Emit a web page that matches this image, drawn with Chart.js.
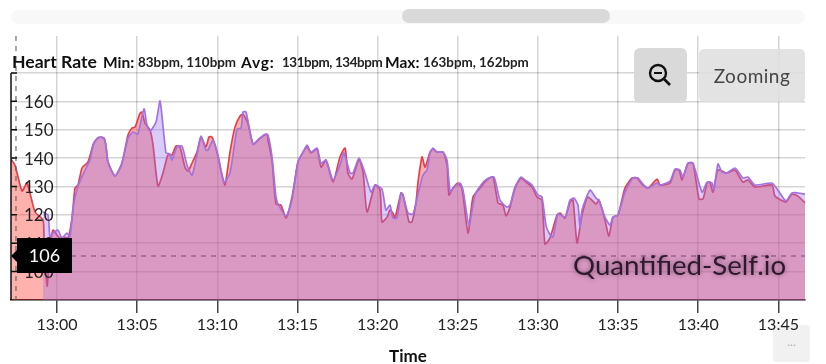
<!DOCTYPE html>
<html>
<head>
<meta charset="utf-8">
<title>Heart Rate</title>
<script src="https://cdn.jsdelivr.net/npm/chart.js@4"></script>
<style>
  html, body { margin: 0; padding: 0; background: #fff; overflow: hidden; }
  body { width: 826px; height: 364px; position: relative; font-family: Lato, sans-serif; color: #111; }
  #chartBox { position: absolute; left: 0; top: 0; width: 826px; height: 364px; }
  .abs { position: absolute; }
  #track { left: 11px; top: 10px; width: 794px; height: 14px; border-radius: 7px; background: #f8f8f8; }
  #thumb { left: 402px; top: 9px; width: 208px; height: 14px; border-radius: 7px; background: #d9d9d9; }
  #heading { left: 12px; top: 51px; white-space: nowrap; line-height: 22px; }
  #heading span { position: absolute; top: 0; white-space: nowrap; }
  .big { font-size: 17.6px; font-weight: 700; color: #111; }
  .mid { font-size: 15.5px; font-weight: 700; color: #111; }
  .small { font-size: 13.4px; font-weight: 700; color: #222; }
  #zoomBtn { left: 634px; top: 48px; width: 53px; height: 55px; border-radius: 6px; background: #d9d9d9; }
  #zoomingBtn { left: 699px; top: 49px; width: 106px; height: 53px; border-radius: 5px; background: rgba(222,222,222,.85);
    font: 19px Lato, sans-serif; color: #444; line-height: 53px; text-align: center; letter-spacing: .5px; }
  #moreBtn { left: 773px; top: 325px; width: 37px; height: 37px; border-radius: 4px; background: rgba(240,240,240,.9);
    font: 12px Lato, sans-serif; color: #aaa; text-align: center; line-height: 34px; }
  #mark { left: 573px; top: 248px; font: 27.6px Lato, sans-serif; color: #2c1a2c; white-space: nowrap;
    text-shadow: 0 0 5px rgba(60,30,60,.55); }
</style>
</head>
<body>
<div class="abs" id="moreBtn">...</div>
<div id="chartBox"><canvas id="hrChart" width="826" height="364"></canvas></div>
<div class="abs" id="track"></div>
<div class="abs" id="thumb"></div>
<div class="abs" id="heading">
  <span class="big" style="left:0">Heart Rate</span>
  <span class="mid" style="left:91px">Min:</span>
  <span class="small" style="left:126px">83bpm, 110bpm</span>
  <span class="mid" style="left:229px;letter-spacing:.8px">Avg:</span>
  <span class="small" style="left:270px;letter-spacing:-.4px">131bpm, 134bpm</span>
  <span class="mid" style="left:373px">Max:</span>
  <span class="small" style="left:411px">163bpm, 162bpm</span>
</div>
<div class="abs" id="zoomBtn">
  <svg width="53" height="55" viewBox="0 0 53 55">
    <circle cx="24" cy="25" r="8" fill="none" stroke="#111" stroke-width="2.4"/>
    <line x1="20" y1="25" x2="28" y2="25" stroke="#111" stroke-width="2"/>
    <line x1="30" y1="31" x2="36" y2="37" stroke="#111" stroke-width="2.6"/>
  </svg>
</div>
<div class="abs" id="zoomingBtn">Zooming</div>
<div class="abs" id="mark">Quantified-Self.io</div>

<script>
// minutes relative to 13:00
const redTimes = [-2.87,-2.62,-2.18,-1.87,-1.37,-0.87,-0.81,-0.62,-0.44,-0.25,0,0.19,0.44,0.69,0.94,1.12,1.31,1.56,1.93,2.25,2.46,2.68,2.93,3.05,3.18,3.62,4.05,4.43,4.68,4.87,5.18,5.30,5.49,5.80,5.99,6.30,6.61,6.92,7.17,7.42,7.67,7.98,8.17,8.42,8.73,8.98,9.29,9.48,9.67,9.98,10.29,10.48,10.79,11.10,11.42,11.60,11.91,12.23,12.66,13.10,13.16,13.41,13.66,13.97,14.29,14.66,15.03,15.35,15.60,15.84,16.22,16.47,16.78,17.22,17.65,17.97,18.15,18.40,18.84,19.09,19.34,19.84,20.15,20.27,20.59,20.77,20.96,21.08,21.46,21.58,21.96,22.14,22.39,22.52,22.77,22.96,23.27,23.45,23.70,24.08,24.33,24.45,24.70,25.01,25.26,25.64,25.95,26.45,26.82,27.20,27.51,27.82,28.01,28.26,28.57,28.94,29.19,29.63,29.94,30.25,30.44,30.75,31.19,31.38,31.69,32.00,32.19,32.44,32.75,33.12,33.62,33.81,34.18,34.43,34.68,34.99,35.43,35.87,36.18,36.49,36.87,37.43,37.62,38.24,38.55,38.80,38.99,39.36,39.67,40.05,40.30,40.55,40.73,40.92,41.23,41.79,42.29,42.79,43.10,43.54,44.60,44.79,45.47,45.85,46.22,46.66];
const redBpm = [139.6,137.5,128.4,131.2,121.0,118.2,111.1,94.9,109.4,114.6,112.9,111.8,112.2,111.8,118.9,129.4,130.5,136.5,138.6,144.6,146.6,147.4,147.0,144.5,138.6,133.7,138.2,148.1,150.6,150.9,155.8,156.2,152.3,149.9,144.6,130.1,134.7,141.1,141.1,144.2,143.9,136.8,135.4,138.2,142.1,147.4,143.9,147.4,147.4,142.1,134.0,130.5,142.1,150.9,154.8,155.5,152.3,144.9,147.0,148.4,146.3,139.3,123.8,123.4,118.9,126.3,138.6,142.1,143.9,141.8,143.2,136.8,139.3,131.5,140.4,143.5,134.7,132.6,139.6,135.1,121.0,130.5,128.7,117.5,119.2,121.7,120.6,118.9,127.7,127.0,117.5,117.5,124.2,131.5,140.4,136.8,142.1,143.2,142.1,142.1,137.5,127.0,129.4,131.2,129.4,113.6,126.3,129.8,132.3,133.3,124.2,123.4,119.6,122.7,129.4,133.0,131.9,129.8,126.3,125.2,109.7,111.8,119.9,120.6,118.9,124.5,125.2,110.1,119.9,126.3,123.8,125.2,118.2,112.5,119.2,119.9,129.4,133.0,133.0,130.8,129.4,132.6,130.5,131.2,135.8,135.8,132.3,138.2,138.2,125.6,125.6,131.2,131.5,128.0,135.8,134.7,135.8,131.5,132.3,129.8,130.5,126.6,124.5,127.3,126.6,124.2];

const purpleTimes = [-0.87,-0.56,-0.44,-0.25,0.06,0.31,0.62,0.81,1.00,1.31,1.75,2.06,2.25,2.46,2.68,2.93,3.05,3.18,3.62,4.05,4.43,4.74,4.99,5.05,5.43,5.61,5.80,6.18,6.43,6.80,7.05,7.17,7.49,7.80,8.11,8.42,8.73,8.98,9.29,9.42,9.73,10.04,10.42,10.79,11.23,11.48,11.60,11.79,12.23,12.66,12.98,13.16,13.41,13.66,13.79,14.29,14.66,15.03,15.35,15.60,15.84,16.22,16.47,16.78,17.22,17.65,17.90,18.28,18.46,18.84,19.21,19.59,19.84,20.27,20.52,20.77,20.96,21.21,21.46,21.58,21.90,22.21,22.58,22.83,23.08,23.27,23.45,23.70,24.08,24.33,24.52,24.70,25.14,25.33,25.70,26.07,26.45,26.82,27.26,27.63,28.07,28.26,28.57,28.94,29.19,29.63,30.00,30.25,30.50,30.69,30.94,31.25,31.69,32.00,32.25,32.50,32.62,32.75,33.25,33.62,33.81,34.18,34.50,34.68,34.99,35.43,35.93,36.24,36.55,36.87,37.43,37.62,38.24,38.55,38.86,39.05,39.36,39.67,40.24,40.55,40.86,40.98,41.23,41.48,41.79,42.29,42.79,43.10,43.54,44.60,44.97,45.47,45.85,46.22,46.66];
const purpleBpm = [121.0,119.9,112.2,113.6,114.6,111.8,113.6,112.2,122.4,130.1,135.8,139.3,144.6,146.6,147.4,147.0,144.5,138.6,133.7,138.2,147.0,149.2,148.4,148.4,157.3,151.6,149.5,152.7,160.1,141.8,141.4,139.3,143.9,144.2,137.5,134.0,141.1,147.7,142.8,142.8,146.3,141.1,131.5,134.7,150.2,150.6,156.2,156.2,144.9,147.0,148.4,148.1,140.4,126.3,123.8,119.6,125.2,138.6,142.1,144.6,142.1,143.5,138.2,139.3,132.3,137.5,141.8,134.7,134.7,140.0,134.7,128.0,130.5,129.1,121.7,123.4,118.9,118.9,127.7,127.0,120.6,120.3,128.7,134.0,135.8,141.8,143.5,142.1,142.1,139.3,128.0,129.4,131.2,128.7,116.4,127.0,130.5,132.6,133.3,125.2,122.7,123.4,129.8,133.3,132.3,130.5,127.0,126.3,116.4,113.6,112.2,120.3,119.2,125.2,125.9,123.4,115.7,121.7,128.7,125.9,125.2,119.2,116.4,119.2,119.9,128.0,133.0,133.0,130.8,129.4,131.2,130.5,131.9,136.1,135.8,133.3,138.2,138.2,128.0,131.5,131.2,128.7,137.9,135.1,134.7,136.5,133.0,133.3,130.5,131.2,128.7,124.9,127.7,127.7,127.3];

const xTicks = [0,5,10,15,20,25,30,35,40,45];
const xTickLabels = ["13:00","13:05","13:10","13:15","13:20","13:25","13:30","13:35","13:40","13:45"];
const yTicks = [100,110,120,130,140,150,160,170];
const yTickLabels = ["100","110","120","130","140","150","160",""];
const hoverBpm = 105.5;
const hoverTime = -2.56;
const hoverLabel = "106";

const FONT = "Lato, sans-serif";

function toPoints(times, values) {
  return times.map((t, i) => ({ x: t, y: values[i] }));
}

const overlayPlugin = {
  id: "overlay",
  afterDraw(chart) {
    const { ctx, scales, chartArea } = chart;
    const y = scales.y.getPixelForValue(hoverBpm);
    const x = scales.x.getPixelForValue(hoverTime);
    const top = scales.y.getPixelForValue(170);

    ctx.save();
    // crosshair
    ctx.lineWidth = 1;
    ctx.setLineDash([5, 5]);
    ctx.strokeStyle = "rgba(90,40,90,.75)";
    ctx.beginPath();
    ctx.moveTo(chartArea.left, y);
    ctx.lineTo(chartArea.right, y);
    ctx.stroke();
    ctx.lineWidth = 1.5;
    ctx.strokeStyle = "rgba(90,90,90,.7)";
    ctx.beginPath();
    ctx.moveTo(x, chartArea.top);
    ctx.lineTo(x, chartArea.bottom);
    ctx.stroke();
    ctx.setLineDash([]);

    // y axis line and the ticks on its inner side
    ctx.strokeStyle = "#111";
    ctx.lineWidth = 1.5;
    ctx.beginPath();
    ctx.moveTo(chartArea.left, top);
    ctx.lineTo(chartArea.left, chartArea.bottom);
    yTicks.forEach((v) => {
      const py = scales.y.getPixelForValue(v);
      ctx.moveTo(chartArea.left, py);
      ctx.lineTo(chartArea.left + 6, py);
    });
    ctx.stroke();

    // hover badge
    ctx.fillStyle = "#000";
    ctx.fillRect(chartArea.left + 6, y - 18, 55, 35);
    ctx.beginPath();
    ctx.moveTo(chartArea.left, y);
    ctx.lineTo(chartArea.left + 6, y - 6);
    ctx.lineTo(chartArea.left + 6, y + 6);
    ctx.closePath();
    ctx.fill();
    ctx.fillStyle = "#fff";
    ctx.font = "18px " + FONT;
    ctx.textAlign = "center";
    ctx.textBaseline = "middle";
    ctx.fillText(hoverLabel, chartArea.left + 33.5, y);
    ctx.restore();
  },
};

new Chart(document.getElementById("hrChart").getContext("2d"), {
  type: "line",
  data: {
    datasets: [
      {
        label: "Purple",
        data: toPoints(purpleTimes, purpleBpm),
        borderColor: "#a272e2",
        backgroundColor: "rgba(150,110,235,.35)",
        borderWidth: 1.7,
        pointRadius: 0,
        tension: 0.2,
        fill: "start",
      },
      {
        label: "Red",
        data: toPoints(redTimes, redBpm),
        borderColor: "#e2404c",
        backgroundColor: "rgba(255,60,50,.4)",
        borderWidth: 1.7,
        pointRadius: 0,
        tension: 0.2,
        fill: "start",
      },
    ],
  },
  options: {
    responsive: false,
    animation: false,
    parsing: false,
    layout: { padding: { left: 11, right: 21, top: 36, bottom: 0 } },
    plugins: { legend: { display: false }, tooltip: { enabled: false } },
    scales: {
      x: {
        type: "linear",
        min: -2.87,
        max: 46.66,
        afterBuildTicks: (axis) => { axis.ticks = xTicks.map((v) => ({ value: v })); },
        afterFit: (axis) => { axis.height = 64; },
        border: { color: "#111", width: 1.5 },
        grid: { color: "rgba(0,0,0,.17)", lineWidth: 1.5, tickColor: "#444", tickLength: 13, tickWidth: 1.5 },
        ticks: {
          color: "#222",
          font: { family: FONT, size: 16 },
          padding: 2,
          maxRotation: 0,
          autoSkip: false,
          callback: (v) => xTickLabels[xTicks.indexOf(v)],
        },
        title: {
          display: true,
          text: "Time",
          color: "#111",
          font: { family: FONT, size: 17, weight: "700" },
          padding: { top: 0, bottom: -3 },
        },
      },
      y: {
        min: 90,
        max: 183,
        afterBuildTicks: (axis) => { axis.ticks = yTicks.map((v) => ({ value: v })); },
        afterFit: (axis) => { axis.width = 0; },
        border: { display: false },
        grid: { color: "rgba(0,0,0,.17)", lineWidth: 1.5, drawTicks: false },
        ticks: {
          mirror: true,
          z: 1,
          color: "#222",
          padding: 13,
          labelOffset: 1,
          font: { family: FONT, size: 17 },
          callback: (v) => yTickLabels[yTicks.indexOf(v)],
        },
      },
    },
  },
  plugins: [overlayPlugin],
});
</script>
</body>
</html>
